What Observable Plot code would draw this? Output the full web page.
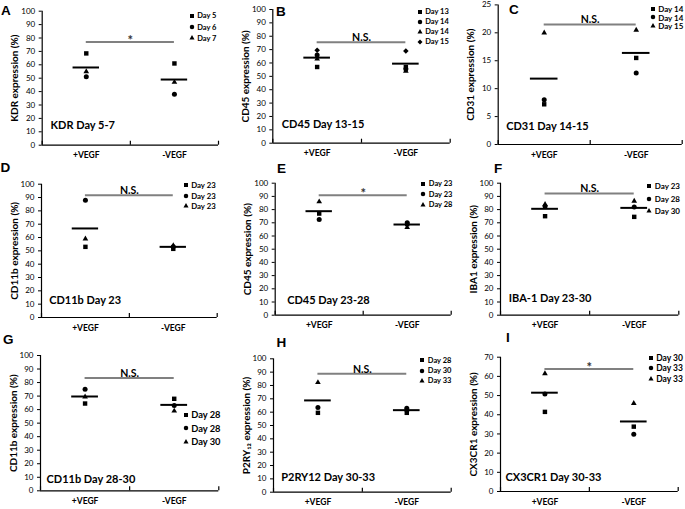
<!DOCTYPE html>
<html><head><meta charset="utf-8">
<script src="https://cdn.jsdelivr.net/npm/d3@7"></script>
<script src="https://cdn.jsdelivr.net/npm/@observablehq/plot@0.6"></script>
<style>
html,body{margin:0;padding:0;background:#fff;}
#root{position:relative;width:685px;height:509px;overflow:hidden;font-family:Lato,"Open Sans",sans-serif;}
.cell{position:absolute;}
.cell svg{display:block;overflow:visible;}
.letter{position:absolute;font:bold 13.5px "Liberation Sans",Arial,sans-serif;line-height:1;color:#000;}
.leg{position:absolute;font-family:Lato,sans-serif;font-weight:bold;color:#000;}
.leg .row{display:flex;align-items:center;white-space:nowrap;}
.leg .row svg{flex-shrink:0;margin-right:2.5px;overflow:visible;}
g[aria-label="y-axis label"] text{font-weight:bold;font-size:10px;}
g[aria-label="x-axis tick label"] text{font-weight:bold;font-size:8.5px;}
</style>
</head><body><div id="root"></div>
<script>
const categories = ["+VEGF", "-VEGF"];

// A
const daysA = ["Day 5", "Day 6", "Day 7"];
const plusA = [68.5, 51, 55];
const minusA = [61, 38, 47];
const meanA = [58, 49];
const sigA = 77, sigTextA = "*";
const titleA = "KDR Day 5-7", ylabelA = "KDR expression (%)";
const yTicksA = [0,10,20,30,40,50,60,70,80,90,100];
// B
const daysB = ["Day 13", "Day 14", "Day 14", "Day 15"];
const plusB = [57, 66, 63, 69.5];
const minusB = [57, 55.5, 54, 69];
const meanB = [64, 59.5];
const sigB = 75.5, sigTextB = "N.S.";
const titleB = "CD45 Day 13-15", ylabelB = "CD45 expression (%)";
const yTicksB = [0,10,20,30,40,50,60,70,80,90,100];
// C
const daysC = ["Day 14", "Day 14", "Day 15"];
const plusC = [7.2, 8, 20];
const minusC = [15.5, 12.8, 20.5];
const meanC = [11.8, 16.4];
const sigC = 21.5, sigTextC = "N.S.";
const titleC = "CD31 Day 14-15", ylabelC = "CD31 expression (%)";
const yTicksC = [0,5,10,15,20,25];
// D
const daysD = ["Day 23", "Day 23", "Day 23"];
const plusD = [53, 88, 59];
const minusD = [51.5, 53, 54];
const meanD = [66.8, 53];
const sigD = 91.8, sigTextD = "N.S.";
const titleD = "CD11b Day 23", ylabelD = "CD11b expression (%)";
const yTicksD = [0,10,20,30,40,50,60,70,80,90,100];
// E
const daysE = ["Day 23", "Day 23", "Day 28"];
const plusE = [77, 72.5, 86];
const minusE = [69, 70, 66.5];
const meanE = [78.8, 68.7];
const sigE = 90.9, sigTextE = "*";
const titleE = "CD45 Day 23-28", ylabelE = "CD45 expression (%)";
const yTicksE = [0,10,20,30,40,50,60,70,80,90,100];
// F
const daysF = ["Day 23", "Day 28", "Day 30"];
const plusF = [75, 82.5, 84];
const minusF = [74.5, 82, 86.5];
const meanF = [80.6, 81.3];
const sigF = 92.2, sigTextF = "N.S.";
const titleF = "IBA-1 Day 23-30", ylabelF = "IBA1 expression (%)";
const yTicksF = [0,10,20,30,40,50,60,70,80,90,100];
// G
const daysG = ["Day 28", "Day 28", "Day 30"];
const plusG = [64.5, 75, 69.5];
const minusG = [68, 63, 59];
const meanG = [69.7, 63.5];
const sigG = 83.3, sigTextG = "N.S.";
const titleG = "CD11b Day 28-30", ylabelG = "CD11b expression (%)";
const yTicksG = [0,10,20,30,40,50,60,70,80,90,100];
// H
const daysH = ["Day 28", "Day 30", "Day 33"];
const plusH = [59.5, 63.5, 82.3];
const minusH = [59.5, 63, 62];
const meanH = [68.8, 61.5];
const sigH = 88.8, sigTextH = "N.S.";
const titleH = "P2RY12 Day 30-33", ylabelH = "P2RY\u2081\u2082 expression (%)";
const yTicksH = [0,10,20,30,40,50,60,70,80,90,100];
// I
const daysI = ["Day 30", "Day 33", "Day 33"];
const plusI = [41.5, 50.8, 61.5];
const minusI = [33.8, 29.8, 46];
const meanI = [51.5, 36.5];
const sigI = 63.9, sigTextI = "*";
const titleI = "CX3CR1 Day 30-33", ylabelI = "CX3CR1 expression (%)";
const yTicksI = [0,10,20,30,40,50,60,70];

const SQ = "square", CI = "circle", TR = "triangle", DI = "diamond2";
const d3Symbols = {square: d3.symbolSquare, circle: d3.symbolCircle, triangle: d3.symbolTriangle, diamond2: d3.symbolDiamond2};
const symbolRadius = {square: 2.5, circle: 2.5, triangle: 2.1, diamond2: 2.5};
const panels = [
  {letter:"A", days:daysA, plus:plusA, minus:minusA, mean:meanA, sig:sigA, sigText:sigTextA, title:titleA, ylabel:ylabelA, yTicks:yTicksA, shapes:[SQ,CI,TR]},
  {letter:"B", days:daysB, plus:plusB, minus:minusB, mean:meanB, sig:sigB, sigText:sigTextB, title:titleB, ylabel:ylabelB, yTicks:yTicksB, shapes:[SQ,CI,TR,DI]},
  {letter:"C", days:daysC, plus:plusC, minus:minusC, mean:meanC, sig:sigC, sigText:sigTextC, title:titleC, ylabel:ylabelC, yTicks:yTicksC, shapes:[SQ,CI,TR]},
  {letter:"D", days:daysD, plus:plusD, minus:minusD, mean:meanD, sig:sigD, sigText:sigTextD, title:titleD, ylabel:ylabelD, yTicks:yTicksD, shapes:[SQ,CI,TR]},
  {letter:"E", days:daysE, plus:plusE, minus:minusE, mean:meanE, sig:sigE, sigText:sigTextE, title:titleE, ylabel:ylabelE, yTicks:yTicksE, shapes:[SQ,CI,TR]},
  {letter:"F", days:daysF, plus:plusF, minus:minusF, mean:meanF, sig:sigF, sigText:sigTextF, title:titleF, ylabel:ylabelF, yTicks:yTicksF, shapes:[SQ,CI,TR]},
  {letter:"G", days:daysG, plus:plusG, minus:minusG, mean:meanG, sig:sigG, sigText:sigTextG, title:titleG, ylabel:ylabelG, yTicks:yTicksG, shapes:[SQ,CI,TR]},
  {letter:"H", days:daysH, plus:plusH, minus:minusH, mean:meanH, sig:sigH, sigText:sigTextH, title:titleH, ylabel:ylabelH, yTicks:yTicksH, shapes:[SQ,CI,TR]},
  {letter:"I", days:daysI, plus:plusI, minus:minusI, mean:meanI, sig:sigI, sigText:sigTextI, title:titleI, ylabel:ylabelI, yTicks:yTicksI, shapes:[SQ,CI,TR]}
];

// layout (pixels): cell [x,y,w,h], frame [left,right,top,bottom]
const layout = [
  {cell:[0,0,228,168],   frame:[41.7,218,10.7,144.7],  letter:[1,4.3],     legend:[191.7,16,11.2,7.5],   note:[8.3,-16.7]},
  {cell:[228,0,227,168], frame:[272.3,449.7,9,142.7],  letter:[276,5],     legend:[419.7,11.7,10.1,7.5], note:[9,-15]},
  {cell:[455,0,230,168], frame:[497.7,681.7,4.4,144],  letter:[509,3.3],   legend:[652.7,8.7,8.8,8],     note:[8,-15]},
  {cell:[0,168,228,168], frame:[41,216.7,183.7,317],   letter:[0.5,161.3], legend:[185.7,185.3,10.5,7.8],note:[7.7,-14]},
  {cell:[228,168,227,168], frame:[274.7,450.7,182.7,314.7], letter:[277,161.8], legend:[423.3,184,10.3,7.5], note:[12,-11.7]},
  {cell:[455,168,230,168], frame:[500,678.3,182.7,314.7],   letter:[494,161.8], legend:[649.3,186.3,12.3,8], note:[8.3,-13.4]},
  {cell:[0,336,228,173], frame:[40,218.3,355,490.3],   letter:[3,333.3],   legend:[185.7,415,13.3,9.3],  note:[6,-8.3]},
  {cell:[228,336,227,173], frame:[273,450.7,358.3,491.7], letter:[276.5,336], legend:[422.3,360.3,10.3,7.5], note:[7.7,-11.4]},
  {cell:[455,336,230,173], frame:[500,677.7,356.7,491],   letter:[506,330.8], legend:[650.7,358.3,10.2,8.5], note:[5,-11]}
];

const root = document.getElementById("root");

panels.forEach((p, idx) => {
  const L = layout[idx];
  const [cx, cy, cw, ch] = L.cell;
  const [fl, fr, ft, fb] = L.frame;
  const keys = p.days.map((d, i) => "s" + i);
  const pts = [];
  p.days.forEach((d, i) => {
    pts.push({x: 0.5, v: p.plus[i], k: keys[i]});
    pts.push({x: 1.5, v: p.minus[i], k: keys[i]});
  });
  const means = p.mean.map((m, i) => ({c: i + 0.5, v: m}));
  const ymax = p.yTicks[p.yTicks.length - 1];
  const star = p.sigText === "*";

  const chart = Plot.plot({
    width: cw, height: ch,
    marginLeft: fl - cx, marginRight: cx + cw - fr, marginTop: ft - cy, marginBottom: cy + ch - fb,
    style: {fontFamily: "Lato, sans-serif", fontSize: "8px", color: "black", background: "transparent", overflow: "visible"},
    x: {type: "linear", domain: [0, categories.length]},
    y: {domain: [0, ymax]},
    r: {type: "identity"},
    symbol: {domain: keys, range: p.shapes},
    marks: [
      Plot.axisY({ticks: p.yTicks, tickSize: 3, tickPadding: 4, tickFormat: d => String(d),
        label: p.ylabel, labelAnchor: "center", labelOffset: 31, labelArrow: "none"}),
      Plot.axisX({ticks: categories.map((c, i) => i + 0.5), tickSize: 0, tickPadding: 7,
        tickFormat: d => categories[Math.round(d - 0.5)], label: null}),
      Plot.ruleX([0], {stroke: "black", strokeWidth: 1.2}),
      Plot.ruleY([0], {stroke: "black", strokeWidth: 1.2}),
      Plot.ruleX(d3.range(categories.length + 1), {y1: 0, y2: 0, insetTop: -4, stroke: "black", strokeWidth: 1.2}),
      Plot.ruleY([p.sig], {x1: 0.5, x2: 1.5, stroke: "#808080", strokeWidth: 2}),
      Plot.text([p.sigText], {x: () => 1, y: () => p.sig, lineAnchor: "bottom",
        dy: star ? 3 : -1, fontSize: star ? 13 : 10.5, fontWeight: "bold",
        fill: star ? "#333" : "black"}),
      Plot.ruleY(means, {x1: d => d.c - 0.15, x2: d => d.c + 0.15, y: "v", stroke: "black", strokeWidth: 2}),
      Plot.dot(pts, {x: "x", y: "v", symbol: "k", fill: "black",
        r: d => symbolRadius[p.shapes[keys.indexOf(d.k)]]}),
      Plot.text([p.title], {frameAnchor: "bottom-left", textAnchor: "start", dx: L.note[0], dy: L.note[1],
        fontSize: 11, fontWeight: "bold", fill: "black"})
    ]
  });

  const cell = document.createElement("div");
  cell.className = "cell";
  cell.style.left = cx + "px"; cell.style.top = cy + "px";
  cell.style.width = cw + "px"; cell.style.height = ch + "px";
  cell.appendChild(chart);
  root.appendChild(cell);

  const letter = document.createElement("div");
  letter.className = "letter";
  letter.textContent = p.letter;
  letter.style.left = L.letter[0] + "px"; letter.style.top = L.letter[1] + "px";
  root.appendChild(letter);

  // legend: symbol from the same symbol scale range as the dots
  const [lx, ly, lstep, lfont] = L.legend;
  const symScale = chart.scale("symbol");
  const leg = d3.select(root).append("div").attr("class", "leg")
    .style("left", (lx - 3) + "px").style("top", (ly - lstep / 2) + "px").style("font-size", lfont + "px");
  const rows = leg.selectAll("div.row").data(keys).join("div").attr("class", "row").style("height", lstep + "px");
  rows.append("svg").attr("width", 6).attr("height", 6).attr("viewBox", "-3 -3 6 6")
    .append("path").attr("fill", "black")
    .attr("d", k => {
      const s = symScale.apply(k);
      const name = typeof s === "string" ? s : p.shapes[keys.indexOf(k)];
      const rr = symbolRadius[name] * 0.9;
      return d3.symbol(d3Symbols[name], Math.PI * rr * rr)();
    });
  rows.append("span").text(k => p.days[keys.indexOf(k)]);
});
</script>
</body></html>
